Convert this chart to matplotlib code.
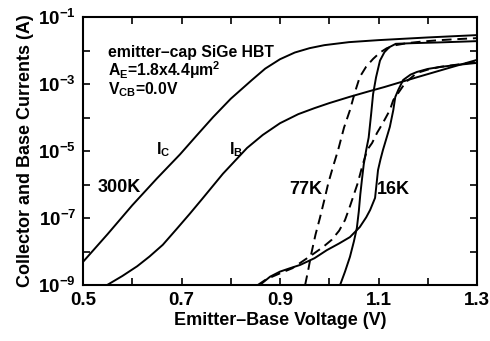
import numpy as np
import matplotlib
matplotlib.use("Agg")
import matplotlib.pyplot as plt
from matplotlib.ticker import NullLocator

plt.rcParams['font.family'] = ['Liberation Sans', 'DejaVu Sans']
plt.rcParams['font.weight'] = 'bold'
plt.rcParams['mathtext.fontset'] = 'custom'
plt.rcParams['mathtext.rm'] = 'Liberation Sans:bold'
plt.rcParams['mathtext.it'] = 'Liberation Sans:bold'
plt.rcParams['mathtext.bf'] = 'Liberation Sans:bold'
plt.rcParams['mathtext.sf'] = 'Liberation Sans:bold'

# ---- data (V in volts, log10 of current in A) ----
ic300_v = [0.5, 0.55, 0.6, 0.65, 0.697, 0.73, 0.764, 0.8, 0.843, 0.87, 0.9, 0.93, 0.96, 0.99, 1.04, 1.1, 1.2, 1.3]
ic300_log = [-8.31, -7.48, -6.62, -5.82, -5.1, -4.55, -3.99, -3.44, -2.88, -2.54, -2.26, -2.06, -1.93, -1.84, -1.75, -1.69, -1.61, -1.54]

ib300_v = [0.549, 0.58, 0.61, 0.635, 0.662, 0.69, 0.717, 0.742, 0.784, 0.833, 0.865, 0.9, 0.937, 0.97, 1.0, 1.042, 1.08, 1.112, 1.18, 1.25, 1.3]
ib300_log = [-9.0, -8.73, -8.44, -8.15, -7.8, -7.33, -6.87, -6.43, -5.68, -4.91, -4.52, -4.17, -3.9, -3.72, -3.57, -3.38, -3.22, -3.09, -2.79, -2.49, -2.28]

ic77_v = [0.951, 0.958, 0.963, 0.972, 0.981, 0.991, 0.998, 1.008, 1.018, 1.03, 1.042, 1.052, 1.062, 1.075, 1.089, 1.103, 1.117, 1.135, 1.158, 1.19, 1.225, 1.26, 1.3]
ic77_log = [-9.0, -8.5, -8.1, -7.5, -7.0, -6.4, -5.96, -5.45, -4.97, -4.3, -3.78, -3.25, -2.79, -2.48, -2.25, -2.06, -1.93, -1.84, -1.78, -1.73, -1.69, -1.66, -1.63]

ib77_v = [0.855, 0.87, 0.886, 0.905, 0.925, 0.945, 0.965, 0.987, 1.005, 1.02, 1.032, 1.042, 1.05, 1.058, 1.067, 1.077, 1.087, 1.097, 1.109, 1.123, 1.13, 1.14, 1.155, 1.178, 1.2, 1.225, 1.26, 1.3]
ib77_log = [-9.0, -8.85, -8.74, -8.62, -8.5, -8.3, -8.1, -7.87, -7.65, -7.38, -7.06, -6.65, -6.3, -5.95, -5.45, -4.97, -4.76, -4.46, -4.16, -3.78, -3.48, -3.27, -2.95, -2.67, -2.57, -2.49, -2.42, -2.34]

ic16_v = [1.022, 1.032, 1.042, 1.05, 1.056, 1.06, 1.063, 1.066, 1.07, 1.075, 1.08, 1.085, 1.089, 1.095, 1.103, 1.112, 1.122, 1.135, 1.17, 1.22, 1.3]
ic16_log = [-9.0, -8.6, -8.16, -7.7, -7.3, -6.8, -6.3, -5.9, -5.4, -4.97, -4.6, -3.9, -3.3, -2.8, -2.3, -2.05, -1.9, -1.8, -1.78, -1.76, -1.72]

ib16_v = [0.859, 0.88, 0.9, 0.92, 0.941, 0.97, 0.995, 1.02, 1.042, 1.062, 1.075, 1.083, 1.093, 1.099, 1.104, 1.109, 1.123, 1.13, 1.134, 1.14, 1.15, 1.165, 1.178, 1.2, 1.225, 1.26, 1.3]
ib16_log = [-9.0, -8.75, -8.6, -8.5, -8.4, -8.2, -7.96, -7.76, -7.57, -7.27, -6.98, -6.76, -6.4, -5.57, -5.25, -4.97, -4.28, -3.78, -3.39, -3.18, -2.88, -2.72, -2.64, -2.55, -2.49, -2.43, -2.37]

x_ticks = [0.5, 0.7, 0.9, 1.1, 1.3]
x_minor = [0.6, 0.8, 1.0, 1.2]
x_tick_labels = ['0.5', '0.7', '0.9', '1.1', '1.3']
y_exponents = [-9, -8, -7, -6, -5, -4, -3, -2, -1]
y_label_exponents = [-9, -7, -5, -3, -1]

fig = plt.figure(figsize=(4.9, 3.41), dpi=100)
ax = fig.add_axes([0.1694, 0.1642, 0.8041, 0.7859])

lw = 1.4
dash = (5.0, 3.0)
def curve(v, lg, dashed=False):
    y = 10.0 ** np.array(lg)
    if dashed:
        ax.plot(v, y, color='black', lw=lw, dashes=dash, solid_capstyle='butt')
    else:
        ax.plot(v, y, color='black', lw=lw)

curve(ic300_v, ic300_log)
curve(ib300_v, ib300_log)
curve(ic77_v, ic77_log, True)
curve(ib77_v, ib77_log, True)
curve(ic16_v, ic16_log)
curve(ib16_v, ib16_log)

ax.set_yscale('log')
ax.set_xlim(0.5, 1.3)
ax.set_ylim(1e-9, 1e-1)

ax.set_xticks(x_ticks)
ax.set_xticklabels(x_tick_labels)
ax.set_xticks(x_minor, minor=True)
ax.set_yticks([10.0 ** e for e in y_exponents])
ax.set_yticklabels([r'$10^{%d}$' % e if e in y_label_exponents else '' for e in y_exponents])
ax.yaxis.set_minor_locator(NullLocator())

ax.tick_params(which='both', direction='in', top=True, right=True, length=5, width=1.2, labelsize=13.5, pad=5)
for s in ax.spines.values():
    s.set_linewidth(1.5)

ax.set_xlabel('Emitter\u2013Base Voltage (V)', fontsize=13, fontweight='bold', labelpad=2)
ax.set_ylabel('Collector and Base Currents (A)', fontsize=13, fontweight='bold', labelpad=3)

def L(e):
    return 10.0 ** e

ax.text(0.551, L(-2.05), 'emitter\u2013cap SiGe HBT', fontsize=11.3, fontweight='bold', va='center', ha='left')
ax.text(0.551, L(-2.58), r'A$_E$=1.8x4.4$\mu$m$^2$', fontsize=11.3, fontweight='bold', va='center', ha='left')
ax.text(0.551, L(-3.16), r'V$_{CB}$=0.0V', fontsize=11.3, fontweight='bold', va='center', ha='left')
ax.text(0.662, L(-4.97), r'I$_C$', fontsize=11.5, fontweight='bold', va='center', ha='center')
ax.text(0.811, L(-4.97), r'I$_B$', fontsize=11.5, fontweight='bold', va='center', ha='center')
ax.text(0.574, L(-6.1), '300K', fontsize=13, fontweight='bold', va='center', ha='center')
ax.text(0.953, L(-6.16), '77K', fontsize=13, fontweight='bold', va='center', ha='center')
ax.text(1.131, L(-6.16), '16K', fontsize=13, fontweight='bold', va='center', ha='center')

fig.savefig('out.png', dpi=100)
